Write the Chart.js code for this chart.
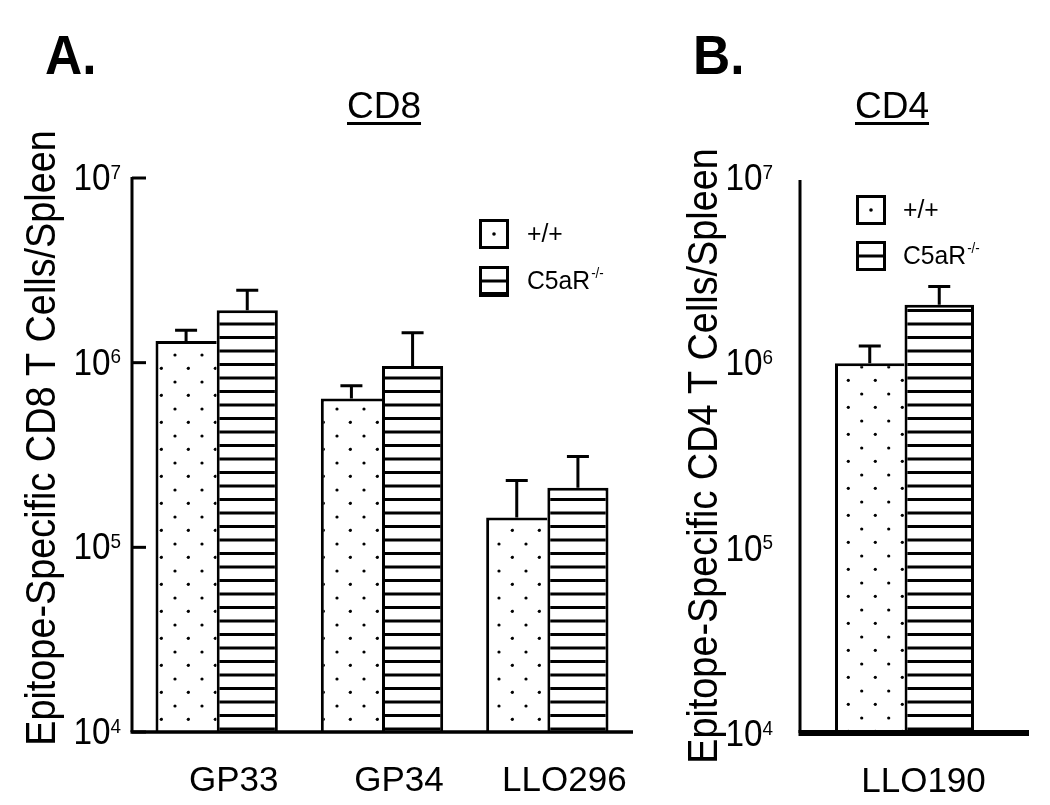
<!DOCTYPE html>
<html><head><meta charset="utf-8">
<script src="https://cdn.jsdelivr.net/npm/chart.js@4.4.1/dist/chart.umd.min.js"></script>
<style>
html,body{margin:0;padding:0;background:#fff;}
#wrap{position:relative;width:1050px;height:805px;overflow:hidden;background:#fff;}
canvas{position:absolute;top:0;}
#cA{left:0;} #cB{left:650px;}
</style></head><body>
<div id="wrap"><canvas id="cA" width="650" height="805"></canvas><canvas id="cB" width="400" height="805"></canvas></div>
<script>
// ---------- data ----------
const categoriesA = ['GP33', 'GP34', 'LLO296'];
const wildTypeA = [1.31e6, 6.4e5, 1.45e5];
const wildTypeErrA = [1.9e5, 1.1e5, 8.5e4];
const knockoutA = [1.92e6, 9.6e5, 2.1e5];
const knockoutErrA = [5.5e5, 4.9e5, 1.0e5];

const categoriesB = ['LLO190'];
const wildTypeB = [1.0e6];
const wildTypeErrB = [2.4e5];
const knockoutB = [2.07e6];
const knockoutErrB = [5.3e5];

const yTickValues = [1e4, 1e5, 1e6, 1e7];
const yTickBase = '10';
const yTickExponents = ['4', '5', '6', '7'];
const seriesNames = ['+/+', 'C5aR'];
const seriesSup = ['', '-/-'];
const panelLetters = ['A.', 'B.'];
const panelTitles = ['CD8', 'CD4'];
const yTitles = ['Epitope-Specific CD8 T Cells/Spleen', 'Epitope-Specific CD4 T Cells/Spleen'];

const FONT = "'Liberation Sans', Arial, Helvetica, sans-serif";

// ---------- patterns ----------
function dotPattern(ctx, ax, ay, bx, by) {
  const c = document.createElement('canvas'); c.width = 27; c.height = 27;
  const g = c.getContext('2d');
  g.fillStyle = '#fff'; g.fillRect(0, 0, 27, 27);
  g.fillStyle = '#000';
  [[ax, ay], [bx, by]].forEach(([x, y]) => {
    [-27, 0, 27].forEach(dx => [-27, 0, 27].forEach(dy => {
      g.beginPath(); g.arc(x + dx, y + dy, 1.6, 0, Math.PI * 2); g.fill();
    }));
  });
  return ctx.createPattern(c, 'repeat');
}
function hatchPattern(ctx) {
  const c = document.createElement('canvas'); c.width = 8; c.height = 27;
  const g = c.getContext('2d');
  g.fillStyle = '#fff'; g.fillRect(0, 0, 8, 27);
  g.fillStyle = '#000';
  g.fillRect(0, 0, 8, 1.5); g.fillRect(0, 25.5, 8, 1.5); g.fillRect(0, 12, 8, 3);
  return ctx.createPattern(c, 'repeat');
}

// ---------- helpers ----------
function scaledText(ctx, text, x, y, font, hs, align) {
  ctx.save();
  ctx.font = font;
  const w = ctx.measureText(text).width * hs;
  let x0 = x;
  if (align === 'right') x0 = x - w; else if (align === 'center') x0 = x - w / 2;
  ctx.translate(x0, y); ctx.scale(hs, 1);
  ctx.textAlign = 'left';
  ctx.fillText(text, 0, 0);
  ctx.restore();
  return w;
}

const errorBarPlugin = {
  id: 'errbars',
  afterDatasetsDraw(chart) {
    const ctx = chart.ctx, y = chart.scales.y;
    chart.data.datasets.forEach((ds, i) => {
      const meta = chart.getDatasetMeta(i);
      meta.data.forEach((bar, j) => {
        const top = y.getPixelForValue(ds.data[j] + ds.errors[j]);
        ctx.save();
        ctx.strokeStyle = '#000'; ctx.lineWidth = 3; ctx.lineCap = 'butt';
        ctx.beginPath();
        ctx.moveTo(bar.x, bar.y); ctx.lineTo(bar.x, top);
        ctx.moveTo(bar.x - 11, top); ctx.lineTo(bar.x + 11, top);
        ctx.stroke();
        ctx.restore();
      });
    });
  }
};

function overlayPlugin(p) {
  return {
    id: 'overlay',
    afterDraw(chart) {
      const ctx = chart.ctx, ys = chart.scales.y;
      ctx.save();
      ctx.fillStyle = '#000'; ctx.strokeStyle = '#000';
      ctx.textBaseline = 'alphabetic';
      // axes
      ctx.lineWidth = 3;
      ctx.beginPath(); ctx.moveTo(p.axisX, p.axisTop); ctx.lineTo(p.axisX, p.baseY); ctx.stroke();
      ctx.fillRect(p.axisX - 1.5, p.baseY - p.baseW / 2, p.baseRight - p.axisX + 1.5, p.baseW);
      // ticks + labels
      yTickValues.forEach((v, i) => {
        const py = ys.getPixelForValue(v);
        if (p.ticks) {
          ctx.lineWidth = 3;
          ctx.beginPath(); ctx.moveTo(p.axisX, py); ctx.lineTo(p.axisX + 14, py); ctx.stroke();
        }
        ctx.font = '21px ' + FONT;
        const supW = ctx.measureText(yTickExponents[i]).width * 0.9;
        scaledText(ctx, yTickExponents[i], p.tickRight, py + 0.5, '21px ' + FONT, 0.9, 'right');
        scaledText(ctx, yTickBase, p.tickRight - supW, py + 12, '37px ' + FONT, 0.9, 'right');
      });
      // y title
      ctx.save();
      ctx.translate(p.yTitleX, p.yTitleY);
      ctx.rotate(-Math.PI / 2);
      ctx.scale(0.9, 1);
      ctx.font = '42px ' + FONT;
      ctx.textAlign = 'center';
      ctx.fillText(p.yTitle, 0, 0);
      ctx.restore();
      // panel letter
      scaledText(ctx, p.letter, p.letterX, 74, 'bold 56px ' + FONT, 0.92, 'left');
      // panel title underlined
      const tw = scaledText(ctx, p.title, p.titleX, 118, '37px ' + FONT, 1, 'left');
      ctx.fillRect(p.titleX, 122, tw, 3);
      // legend
      const L = p.legend;
      ctx.lineWidth = 3;
      ctx.strokeRect(L.x + 1.5, L.y1 + 1.5, 27, 27);
      ctx.beginPath(); ctx.arc(L.x + 15, L.y1 + 15, 1.8, 0, Math.PI * 2); ctx.fill();
      ctx.strokeRect(L.x + 1.5, L.y2 + 1.5, 27, 27);
      ctx.fillRect(L.x, L.y2 + 13.5, 30, 3);
      if (L.thick) ctx.fillRect(L.x, L.y2 + 26, 30, 5);
      ctx.textBaseline = 'middle';
      scaledText(ctx, seriesNames[0], L.tx, L.y1 + 16, '26px ' + FONT, 0.95, 'left');
      const w2 = scaledText(ctx, seriesNames[1], L.tx, L.y2 + 16, '26px ' + FONT, 0.95, 'left');
      scaledText(ctx, seriesSup[1], L.tx + w2 + 1, L.y2 + 8, '14px ' + FONT, 0.95, 'left');
      ctx.restore();
    }
  };
}

function makeChart(id, cats, wt, wtErr, ko, koErr, cfg, panel) {
  const canvas = document.getElementById(id);
  const ctx = canvas.getContext('2d');
  const dots = dotPattern(ctx, cfg.dots[0], cfg.dots[1], cfg.dots[2], cfg.dots[3]);
  const hatch = hatchPattern(ctx);
  return new Chart(ctx, {
    type: 'bar',
    data: {
      labels: cats,
      datasets: [
        { label: seriesNames[0], data: wt, errors: wtErr, backgroundColor: dots, borderColor: '#000',
          borderWidth: { top: 3, left: 3, right: 0, bottom: 0 }, borderSkipped: false,
          categoryPercentage: cfg.catPct, barPercentage: 1 },
        { label: seriesNames[1] + seriesSup[1], data: ko, errors: koErr, backgroundColor: hatch, borderColor: '#000',
          borderWidth: { top: 3, left: 3, right: 3, bottom: 0 }, borderSkipped: false,
          categoryPercentage: cfg.catPct, barPercentage: 1 }
      ]
    },
    options: {
      responsive: false, animation: false, devicePixelRatio: 1,
      layout: { padding: { left: 0, top: cfg.top, right: cfg.padRight, bottom: 0 } },
      plugins: { legend: { display: false }, tooltip: { enabled: false } },
      scales: {
        x: {
          type: 'category',
          grid: { display: false }, border: { display: false },
          ticks: { color: '#000', font: { family: FONT, size: 35 }, padding: cfg.labelPad,
                   labelOffset: cfg.labelOffset, maxRotation: 0, autoSkip: false },
          afterFit(s) { s.height = cfg.xHeight; }
        },
        y: {
          type: 'logarithmic', min: 1e4, max: 1e7,
          grid: { display: false }, border: { display: false },
          ticks: { display: false },
          afterFit(s) { s.width = cfg.yWidth; }
        }
      }
    },
    plugins: [errorBarPlugin, overlayPlugin(panel)]
  });
}

makeChart('cA', categoriesA, wildTypeA, wildTypeErrA, knockoutA, knockoutErrA,
  { top: 178, padRight: 20, xHeight: 73, yWidth: 134, catPct: 0.74, labelPad: 20, labelOffset: 17,
    dots: [13, 4, 26.3, 17.3] },
  { axisX: 132, axisTop: 177, baseY: 732, baseRight: 633, baseW: 3.5, ticks: true, tickRight: 121,
    yTitle: yTitles[0], yTitleX: 55, yTitleY: 438, letter: panelLetters[0], letterX: 45,
    title: panelTitles[0], titleX: 347,
    legend: { x: 479, y1: 219, y2: 266, tx: 527, thick: true } });

makeChart('cB', categoriesB, wildTypeB, wildTypeErrB, knockoutB, knockoutErrB,
  { top: 178, padRight: 41, xHeight: 71, yWidth: 150, catPct: 0.665, labelPad: 19, labelOffset: 19,
    dots: [9.3, 2.3, 22.7, 16] },
  { axisX: 150, axisTop: 180, baseY: 733, baseRight: 379, baseW: 6, ticks: false, tickRight: 123,
    yTitle: yTitles[1], yTitleX: 67, yTitleY: 456, letter: panelLetters[1], letterX: 43,
    title: panelTitles[1], titleX: 205,
    legend: { x: 206, y1: 195, y2: 241, tx: 253, thick: false } });
</script>
</body></html>
